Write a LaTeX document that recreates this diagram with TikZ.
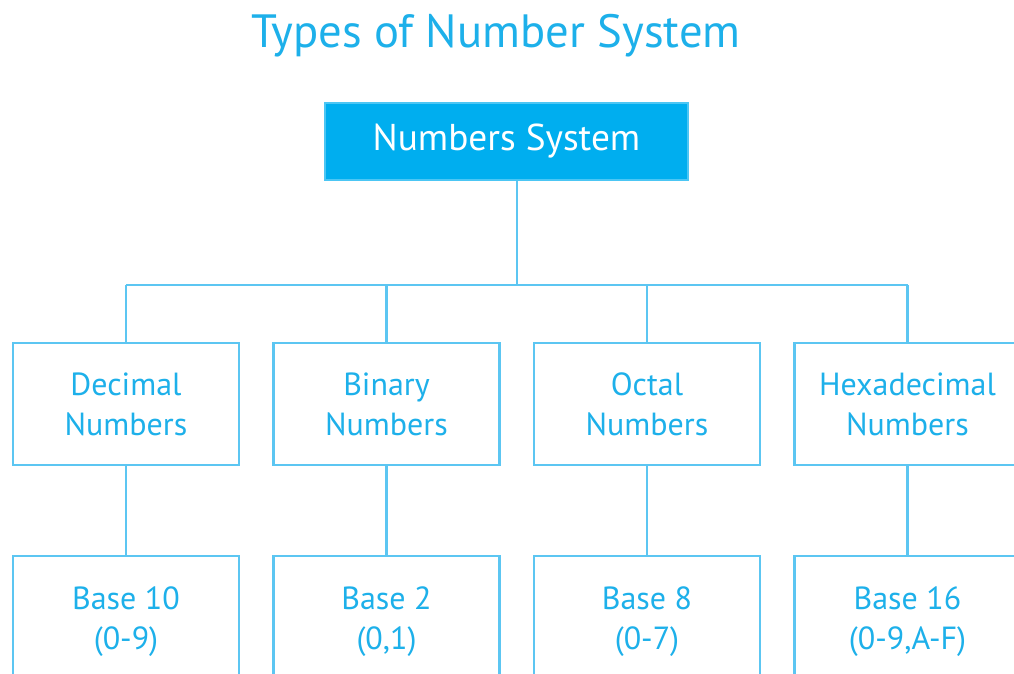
\documentclass[tikz,border=0pt]{standalone}
\usepackage{fontspec}
\setmainfont{PT Sans}
\definecolor{nsfill}{HTML}{00AEEF}
\definecolor{nsline}{HTML}{5CC6F2}
\definecolor{nstext}{HTML}{1DB0EA}
\tikzset{
  rootbox/.style={fill=nsfill, draw=nsfill!70!white, line width=1pt,
    minimum width=272.25pt, minimum height=57.75pt, text=white,
    font=\fontsize{28}{32}\selectfont},
  kindbox/.style={draw=nsline, fill=white, line width=2pt,
    minimum width=169.5pt, minimum height=91.5pt, text=nstext, align=center,
    font=\fontsize{24}{30}\selectfont},
  basebox/.style={kindbox, minimum height=99pt},
  link/.style={draw=nsline, line width=2pt}
}
\begin{document}
\begin{tikzpicture}[x=0.75pt,y=-0.75pt]
\useasboundingbox (0,0) rectangle (1014,674);
\clip (0,0) rectangle (1014,674);
\fill[white] (0,0) rectangle (1014,674);

\node[text=nstext, font=\fontsize{35}{40}\selectfont] (title) at (496,36) {Types of Number System};

\node[rootbox] (root) at (506.5,141.5) {Numbers System};

\coordinate (bus) at (517,285);

\node[kindbox] (d1) at (126,404) {Decimal\\Numbers};
\node[kindbox] (d2) at (386.5,404) {Binary\\Numbers};
\node[kindbox] (d3) at (647,404) {Octal\\Numbers};
\node[kindbox] (d4) at (907.5,404) {Hexadecimal\\Numbers};

\node[basebox] (b1) at (126,622) {Base 10\\(0-9)};
\node[basebox] (b2) at (386.5,622) {Base 2\\(0,1)};
\node[basebox] (b3) at (647,622) {Base 8\\(0-7)};
\node[basebox] (b4) at (907.5,622) {Base 16\\(0-9,A-F)};

% trunk and bus bar
\draw[link] (root.south -| bus) -- (bus);
\draw[link] (d1.north |- bus) -- (d4.north |- bus);
\foreach \i in {1,...,4} {
  \draw[link] (d\i.north |- bus) -- (d\i.north);
  \draw[link] (d\i.south) -- (b\i.north);
}
\end{tikzpicture}
\end{document}
